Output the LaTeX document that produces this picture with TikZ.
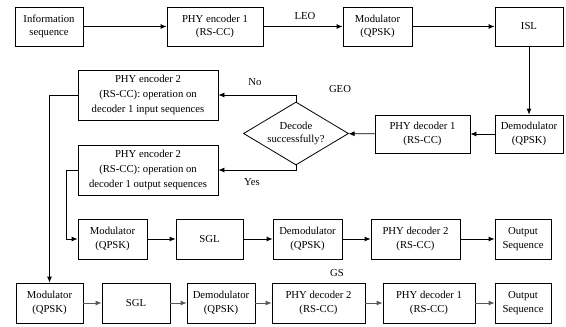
\documentclass[tikz,border=0pt]{standalone}
\usepackage{fontspec}
\setmainfont{Liberation Serif}
\usetikzlibrary{shapes.geometric,arrows.meta}

\tikzset{
  blk/.style={draw, thick, align=center, inner sep=1pt, font=\fontsize{10.7}{13.5}\selectfont},
  lbl/.style={font=\fontsize{10.7}{12}\selectfont},
  gline/.style={draw=black!65, thick}
}

\begin{document}
\begin{tikzpicture}[x=1pt, y=-1pt, >={Latex[length=6pt,width=5pt]}, thick]
            \useasboundingbox (0,0) rectangle (566,327);
            % LEO
            \node[blk, minimum width=68pt, minimum height=39pt] at (49,26.5) (info) {Information\\sequence};
            \node[blk, minimum width=96pt, minimum height=39pt] at (215,26.5) (enc1) {PHY encoder 1\\(RS-CC)};
            \node[blk, minimum width=69pt, minimum height=39pt] at (377.5,26.5) (mod1) {Modulator\\(QPSK)};
            \node[blk, minimum width=68pt, minimum height=39pt] at (529,26.5) (isl) {ISL};
            % GEO
            \node[blk, minimum width=68pt, minimum height=38pt] at (529,134) (demod1) {Demodulator\\(QPSK)};
            \node[blk, minimum width=95pt, minimum height=38pt] at (422.5,134) (dec1) {PHY decoder 1\\(RS-CC)};
            \node[blk, diamond, aspect=1.67, inner sep=0pt, minimum width=105pt, minimum height=63pt] at (296,133.5) (ok) {Decode\\successfully?};
            \node[blk, minimum width=140pt, minimum height=50pt, font=\fontsize{10.7}{15}\selectfont] at (148,95) (enc2a) {PHY encoder 2\\(RS-CC): operation on\\decoder 1 input sequences};
            \node[blk, minimum width=140pt, minimum height=50pt, font=\fontsize{10.7}{15}\selectfont] at (148,170) (enc2b) {PHY encoder 2\\(RS-CC): operation on\\decoder 1 output sequences};
            % GS
            \node[blk, minimum width=69pt, minimum height=40pt] at (112.5,239) (mod3) {Modulator\\(QPSK)};
            \node[blk, minimum width=67pt, minimum height=40pt] at (209.5,239) (sgl3) {SGL};
            \node[blk, minimum width=69pt, minimum height=40pt] at (307.5,239) (demod3) {Demodulator\\(QPSK)};
            \node[blk, minimum width=89pt, minimum height=40pt] at (415.5,239) (dec23) {PHY decoder 2\\(RS-CC)};
            \node[blk, minimum width=56pt, minimum height=40pt] at (523,239) (out3) {Output\\Sequence};
            \node[blk, minimum width=67pt, minimum height=40pt] at (49.5,303) (mod4) {Modulator\\(QPSK)};
            \node[blk, minimum width=68pt, minimum height=40pt] at (136,303) (sgl4) {SGL};
            \node[blk, minimum width=68pt, minimum height=40pt] at (221,303) (demod4) {Demodulator\\(QPSK)};
            \node[blk, minimum width=93pt, minimum height=40pt] at (318.5,303) (dec24) {PHY decoder 2\\(RS-CC)};
            \node[blk, minimum width=92pt, minimum height=40pt] at (429,303) (dec14) {PHY decoder 1\\(RS-CC)};
            \node[blk, minimum width=56pt, minimum height=40pt] at (523,303) (out4) {Output\\Sequence};
            % labels
            \node[lbl] at (305,16) (leo) {LEO};
            \node[lbl] at (340,89) (geo) {GEO};
            \node[lbl] at (337,273) (gs) {GS};
            \node[lbl] at (255,82) (no) {No};
            \node[lbl] at (252,182) (yes) {Yes};
            \draw[->] (info) to (enc1);
            \draw[->] (enc1) to (mod1);
            \draw[->] (mod1) to (isl);
            \draw[->] (isl) to (demod1);
            \draw[->] (demod1) to (dec1);
            \draw[->] (dec1) to (ok);
            \draw[->] (ok.north) |- (enc2a);
            \draw[->] (ok.south) |- (enc2b);
            \draw[->] (enc2a.west) -| (mod4.north);
            \draw[->] (enc2b.west) -- ++(-11,0) |- (mod3.west);
            \draw[->] (mod3) to (sgl3);
            \draw[->] (sgl3) to (demod3);
            \draw[->] (demod3) to (dec23);
            \draw[->] (dec23) to (out3);
            \draw[->, gline] (mod4) to (sgl4);
            \draw[->, gline] (sgl4) to (demod4);
            \draw[->, gline] (demod4) to (dec24);
            \draw[->, gline] (dec24) to (dec14);
            \draw[->, gline] (dec14) to (out4);
        \end{tikzpicture}
\end{document}
